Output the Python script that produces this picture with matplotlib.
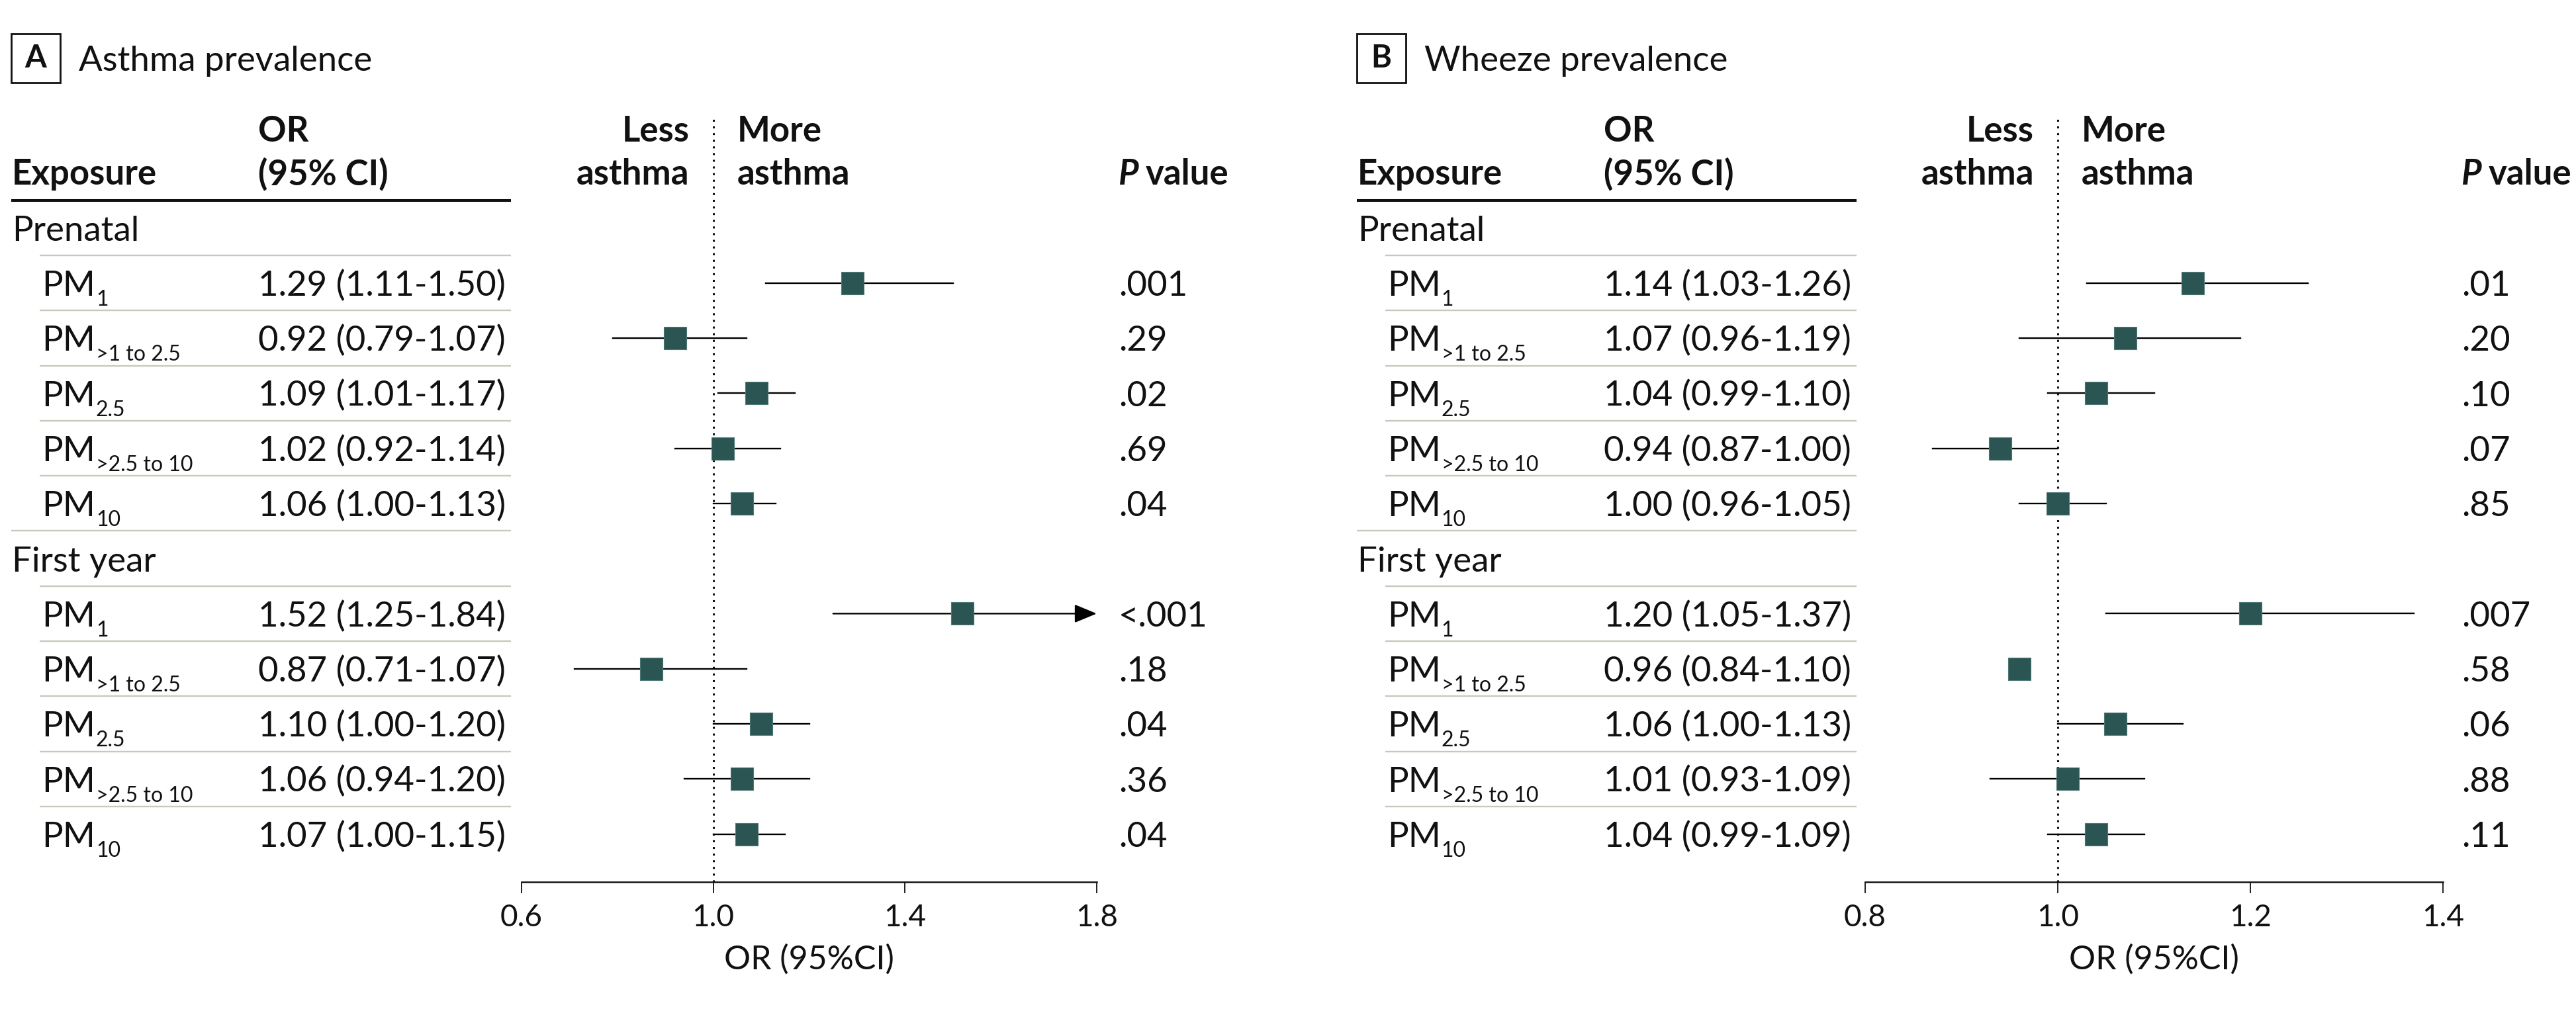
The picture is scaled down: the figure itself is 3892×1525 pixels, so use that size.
import matplotlib
matplotlib.use("Agg")
import matplotlib.pyplot as plt
from matplotlib.patches import Rectangle
from matplotlib.transforms import blended_transform_factory, offset_copy

plt.rcParams["font.family"] = ["Lato", "DejaVu Sans"]

W, H = 3892, 1525
DPI = 100
ROW0, ROW_H = 344.3, 83.3   # px centre of the first table row and row pitch

# ---- data -------------------------------------------------------------
groups = ["Prenatal", "First year"]
pm_subs = ["1", ">1 to 2.5", "2.5", ">2.5 to 10", "10"]

asthma_or = [1.29, 0.92, 1.09, 1.02, 1.06, 1.52, 0.87, 1.10, 1.06, 1.07]
asthma_lo = [1.11, 0.79, 1.01, 0.92, 1.00, 1.25, 0.71, 1.00, 0.94, 1.00]
asthma_hi = [1.50, 1.07, 1.17, 1.14, 1.13, 1.84, 1.07, 1.20, 1.20, 1.15]
asthma_p = [".001", ".29", ".02", ".69", ".04", "<.001", ".18", ".04", ".36", ".04"]

wheeze_or = [1.14, 1.07, 1.04, 0.94, 1.00, 1.20, 0.96, 1.06, 1.01, 1.04]
wheeze_lo = [1.03, 0.96, 0.99, 0.87, 0.96, 1.05, 0.84, 1.00, 0.93, 0.99]
wheeze_hi = [1.26, 1.19, 1.10, 1.00, 1.05, 1.37, 1.10, 1.13, 1.09, 1.09]
wheeze_p = [".01", ".20", ".10", ".07", ".85", ".007", ".58", ".06", ".88", ".11"]
wheeze_no_bar = [6]  # the published figure shows no CI line for this row

asthma_ticks = [0.6, 1.0, 1.4, 1.8]
wheeze_ticks = [0.8, 1.0, 1.2, 1.4]

FS = 38
SUB_FS = 23
INK = "#111111"
SQUARE = "#2a5552"
RULE = "#c6cabb"


def row_of(py):
    return (py - ROW0) / ROW_H


def draw_panel(fig, renderer, letter, title, orv, lo, hi, pvals, ticks,
               ax_px, dx, p_px, no_bar=()):
    left, right = ax_px
    top_px, bot_px = 177, 1332.5
    ax = fig.add_axes([left / W, 1 - bot_px / H, (right - left) / W,
                       (bot_px - top_px) / H])
    ax.set_xlim(ticks[0], ticks[-1])
    ax.set_ylim(row_of(bot_px), row_of(top_px))

    for s in ["top", "left", "right"]:
        ax.spines[s].set_visible(False)
    ax.spines["bottom"].set_linewidth(1.8)
    ax.spines["bottom"].set_color(INK)
    ax.set_yticks([])
    ax.set_xticks(ticks)
    ax.set_xticklabels([f"{t:.1f}" for t in ticks])
    ax.tick_params(axis="x", length=12, width=1.3, pad=12, labelsize=33,
                   color=INK, labelcolor=INK)
    ax.set_xlabel("OR (95%CI)", fontsize=36, labelpad=14, color=INK)
    ax.axvline(1.0, color=INK, lw=2.2, linestyle=(0, (1, 2.3)), zorder=1)

    tt = blended_transform_factory(fig.transFigure, ax.transData)
    sub_tt = offset_copy(tt, fig=fig, x=0, y=-10.8, units="points")

    def tx(px):
        return (px + dx) / W

    # panel letter and title
    fig.add_artist(Rectangle((tx(17), 1 - 125 / H), 74 / W, 74 / H,
                             transform=fig.transFigure, fill=False,
                             lw=2, ec=INK))
    fig.text(tx(54), 1 - 88 / H, letter, ha="center", va="center",
             fontsize=34, weight="bold", color=INK)
    fig.text(tx(119), 1 - 107 / H, title, fontsize=FS, va="baseline", color=INK)

    # column headers
    y1, y2 = row_of(214), row_of(279)
    ax.text(tx(390), y1, "OR", transform=tt, fontsize=FS, weight="bold",
            va="baseline", color=INK)
    ax.text(tx(390), y2, "(95% CI)", transform=tt, fontsize=FS, weight="bold",
            va="baseline", color=INK)
    ax.text(tx(18), y2, "Exposure", transform=tt, fontsize=FS, weight="bold",
            va="baseline", color=INK)
    for txt, yy in [("Less", y1), ("asthma", y2)]:
        ax.annotate(txt, xy=(1.0, yy), xytext=(-26, 0), textcoords="offset points",
                    ha="right", va="baseline", fontsize=FS, weight="bold",
                    color=INK, annotation_clip=False)
    for txt, yy in [("More", y1), ("asthma", y2)]:
        ax.annotate(txt, xy=(1.0, yy), xytext=(26, 0), textcoords="offset points",
                    ha="left", va="baseline", fontsize=FS, weight="bold",
                    color=INK, annotation_clip=False)
    pt = ax.text(p_px / W, y2, "P", transform=tt, fontsize=FS, weight="bold",
                 style="italic", va="baseline", color=INK)
    bb = pt.get_window_extent(renderer)
    ax.text(bb.x1 / W + 10 / W, y2, "value", transform=tt, fontsize=FS,
            weight="bold", va="baseline", color=INK)

    # rules
    ax.plot([tx(17), tx(772)], [-0.5, -0.5], transform=tt, clip_on=False,
            color=INK, lw=2.9, solid_capstyle="butt")
    for r in range(11):
        x0 = tx(17) if r == 5 else tx(60)
        ax.plot([x0, tx(772)], [r + 0.5, r + 0.5], transform=tt, clip_on=False,
                color=RULE, lw=1.7, solid_capstyle="butt")

    base = 0.234
    for g, gname in enumerate(groups):
        grow = g * 6
        ax.text(tx(18), grow + base, gname, transform=tt, fontsize=FS,
                va="baseline", color=INK)
        for k, sub in enumerate(pm_subs):
            i = g * 5 + k
            y = grow + 1 + k
            t = ax.text(tx(63), y + base, "PM", transform=tt, fontsize=FS,
                        va="baseline", color=INK)
            b = t.get_window_extent(renderer)
            ax.text(b.x1 / W + 1 / W, y + base, sub, transform=sub_tt,
                    fontsize=SUB_FS, va="baseline", color=INK)
            ax.text(tx(390), y + base, f"{orv[i]:.2f} ({lo[i]:.2f}-{hi[i]:.2f})",
                    transform=tt, fontsize=FS, va="baseline", color=INK)
            ax.text(p_px / W, y + base, pvals[i], transform=tt, fontsize=FS,
                    va="baseline", color=INK)

            xmax = ticks[-1]
            if i not in no_bar:
                if hi[i] > xmax:
                    ax.annotate("", xy=(xmax, y), xytext=(lo[i], y),
                                arrowprops=dict(arrowstyle="-|>,head_length=1.04,head_width=0.43",
                                                mutation_scale=20, lw=1.7, color="#000000",
                                                shrinkA=0, shrinkB=0),
                                annotation_clip=False)
                else:
                    ax.plot([lo[i], hi[i]], [y, y], color="#000000", lw=1.7, zorder=2)
            ax.plot(orv[i], y, "s", ms=24.5, color=SQUARE, mec="#4f7a77",
                    mew=0.8, zorder=3)
    return ax


def main():
    fig = plt.figure(figsize=(W / DPI, H / DPI), dpi=DPI)
    renderer = fig.canvas.get_renderer()

    draw_panel(fig, renderer, "A", "Asthma prevalence", asthma_or, asthma_lo,
               asthma_hi, asthma_p, asthma_ticks, (788, 1657), 0, 1690)
    draw_panel(fig, renderer, "B", "Wheeze prevalence", wheeze_or, wheeze_lo,
               wheeze_hi, wheeze_p, wheeze_ticks, (2818, 3691), 2033, 3719,
               no_bar=wheeze_no_bar)

    fig.savefig("out.png", dpi=DPI, facecolor="white")


if __name__ == "__main__":
    main()
